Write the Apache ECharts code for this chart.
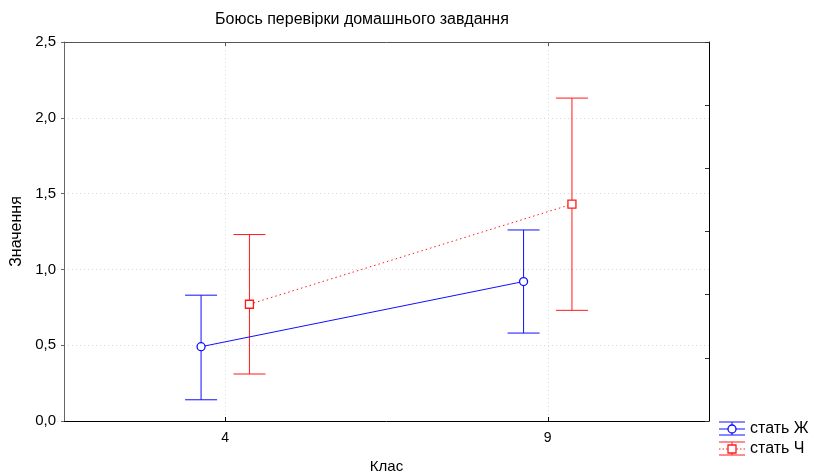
<!DOCTYPE html>
<html><head><meta charset="utf-8">
<script src="https://cdn.jsdelivr.net/npm/echarts@6/dist/echarts.min.js"></script>
<style>html,body{margin:0;padding:0;background:#fff}#c{width:814px;height:473px}</style>
</head><body><div id="c"></div>
<script>
const categories = ['4', '9'];
const seriesNames = ['стать Ж', 'стать Ч'];
const meanZh = [0.49, 0.92];
const upperZh = [0.83, 1.26];
const lowerZh = [0.14, 0.58];
const meanCh = [0.77, 1.43];
const upperCh = [1.23, 2.13];
const lowerCh = [0.31, 0.73];
const titleText = 'Боюсь перевірки домашнього завдання';
const xName = 'Клас';
const yName = 'Значення';

const catPos = categories.map((c, i) => 1 + 2 * i);
const OFF = 0.15;
const BLUE = '#0f0fff', RED = '#ff1a1a';
const FONT = 'Liberation Sans, Arial, sans-serif';

function errData(means, lows, highs, off) {
  return means.map((m, i) => [catPos[i] + off, lows[i], highs[i]]);
}
function errSeries(data, color) {
  return {
    type: 'custom', silent: true, z: 3,
    renderItem: function (params, api) {
      const x = api.value(0);
      const lo = api.coord([x, api.value(1)]);
      const hi = api.coord([x, api.value(2)]);
      const hw = 16;
      const st = { stroke: color, lineWidth: 1 };
      return { type: 'group', children: [
        { type: 'line', shape: { x1: lo[0], y1: lo[1], x2: hi[0], y2: hi[1] }, style: st },
        { type: 'line', shape: { x1: lo[0] - hw, y1: lo[1], x2: lo[0] + hw, y2: lo[1] }, style: st },
        { type: 'line', shape: { x1: hi[0] - hw, y1: hi[1], x2: hi[0] + hw, y2: hi[1] }, style: st }
      ]};
    },
    encode: { x: 0, y: [1, 2] },
    data: data
  };
}

const chart = echarts.init(document.getElementById('c'), null, { renderer: 'canvas' });
chart.setOption({
  animation: false,
  textStyle: { fontFamily: FONT },
  title: { text: titleText, left: 210, top: 7, textStyle: { fontSize: 16, fontWeight: 'normal', color: '#000', fontFamily: FONT } },
  grid: { left: 64, right: 105, top: 42, bottom: 52, outerBoundsMode: 'none', containLabel: false },
  xAxis: [{
    type: 'value', min: 0, max: 4, position: 'bottom',
    name: xName, nameLocation: 'middle', nameGap: 38,
    nameTextStyle: { fontSize: 15, color: '#000', fontFamily: FONT },
    axisLine: { show: true, onZero: false, lineStyle: { color: '#000', width: 1 } },
    axisTick: { show: true, inside: true, length: 4, customValues: catPos, lineStyle: { color: '#000' } },
    axisLabel: { customValues: catPos, formatter: v => categories[catPos.indexOf(v)] ?? '', fontSize: 14, color: '#000', margin: 10, fontFamily: FONT },
    splitLine: { show: true, lineStyle: { color: '#d8d8d8', type: [1, 3] } }
  }, {
    type: 'value', min: 0, max: 4, position: 'top',
    axisLine: { show: true, onZero: false, lineStyle: { color: '#555', width: 1 } },
    axisTick: { show: true, inside: true, length: 4, customValues: catPos, lineStyle: { color: '#555' } },
    axisLabel: { show: false },
    splitLine: { show: false }
  }],
  yAxis: [{
    type: 'value', min: 0, max: 2.5, interval: 0.5, position: 'left',
    name: yName, nameLocation: 'middle', nameGap: 39, nameRotate: 90,
    nameTextStyle: { fontSize: 16, color: '#000', fontFamily: FONT },
    axisLine: { show: true, onZero: false, lineStyle: { color: '#666', width: 1 } },
    axisTick: { show: true, inside: false, length: 3, lineStyle: { color: '#666' } },
    axisLabel: { formatter: v => v.toFixed(1).replace('.', ','), fontSize: 15, color: '#000', margin: 8, fontFamily: FONT },
    splitLine: { show: true, lineStyle: { color: '#d8d8d8', type: [1, 3] } }
  }, {
    type: 'value', min: 0, max: 2.5, interval: 2.5 / 6, position: 'right',
    axisLine: { show: true, onZero: false, lineStyle: { color: '#000', width: 1 } },
    axisTick: { show: true, inside: true, length: 4, lineStyle: { color: '#333' } },
    axisLabel: { show: false },
    splitLine: { show: false }
  }],
  series: [
    errSeries(errData(meanZh, lowerZh, upperZh, -OFF), BLUE),
    errSeries(errData(meanCh, lowerCh, upperCh, OFF), RED),
    {
      name: seriesNames[0], type: 'line', z: 4,
      data: meanZh.map((m, i) => [catPos[i] - OFF, m]),
      lineStyle: { color: BLUE, width: 1 },
      symbol: 'circle', symbolSize: 8,
      itemStyle: { color: '#fff', borderColor: BLUE, borderWidth: 1.3 }
    },
    {
      name: seriesNames[1], type: 'line', z: 4,
      data: meanCh.map((m, i) => [catPos[i] + OFF, m]),
      lineStyle: { color: RED, width: 1, type: [1.5, 3] },
      symbol: 'rect', symbolSize: 8,
      itemStyle: { color: '#fff', borderColor: RED, borderWidth: 1.3 }
    }
  ],
  graphic: [0, 1].map(k => {
    const c = k === 0 ? BLUE : RED;
    const cy = 429 + k * 20;
    const x0 = 719, x1 = 745, xm = 732;
    const st = { stroke: c, lineWidth: 1 };
    return {
      type: 'group', children: [
        { type: 'line', shape: { x1: x0, y1: cy - 7, x2: x1, y2: cy - 7 }, style: st },
        { type: 'line', shape: { x1: x0, y1: cy + 6, x2: x1, y2: cy + 6 }, style: st },
        { type: 'line', shape: { x1: xm, y1: cy - 7, x2: xm, y2: cy + 6 }, style: st },
        { type: 'line', shape: { x1: x0, y1: cy, x2: x1, y2: cy }, style: k === 0 ? st : { stroke: c, lineWidth: 1, lineDash: [1.5, 2] } },
        k === 0
          ? { type: 'circle', shape: { cx: xm, cy: cy, r: 4 }, style: { fill: '#fff', stroke: c, lineWidth: 1.3 } }
          : { type: 'rect', shape: { x: xm - 4, y: cy - 4, width: 8, height: 8 }, style: { fill: '#fff', stroke: c, lineWidth: 1.3 } },
        { type: 'text', x: 750, y: cy, style: { text: seriesNames[k], fill: '#000', font: '16px ' + FONT, verticalAlign: 'middle' } }
      ]
    };
  })
});
</script></body></html>
